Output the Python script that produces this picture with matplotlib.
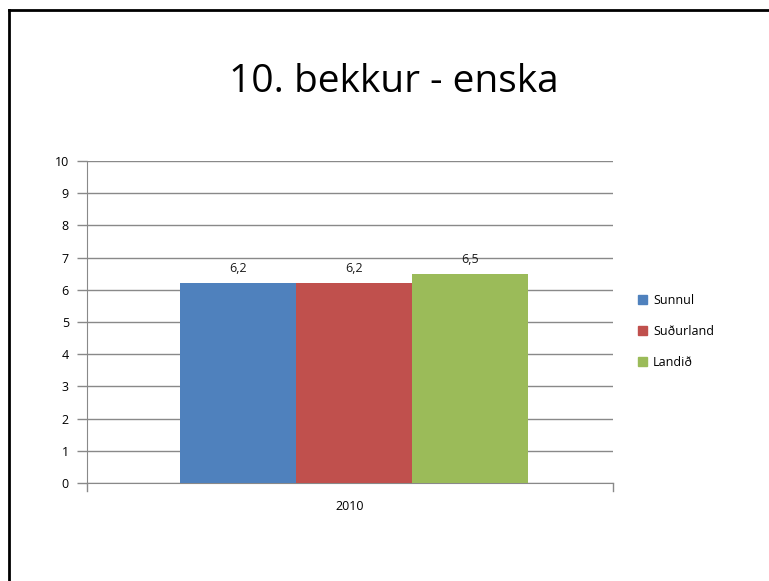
import numpy as np
import matplotlib.pyplot as plt
from matplotlib.lines import Line2D
from matplotlib.patches import Patch

plt.rcParams['font.family'] = ['Open Sans', 'DejaVu Sans']

categories = ['2010']
series_names = ['Sunnul', 'Suðurland', 'Landið']
series_values = [6.2, 6.2, 6.5]
value_labels = ['6,2', '6,2', '6,5']
colors = ['#4F81BD', '#C0504D', '#9BBB59']
y_ticks = list(range(0, 11))

fig = plt.figure(figsize=(7.69, 5.81), dpi=100)
ax = fig.add_axes([0.1131, 0.1687, 0.684, 0.554])

bar_w = 0.2205
shift = 0.0076
offsets = [-bar_w + shift, shift, bar_w + shift]
for name, val, lab, col, off in zip(series_names, series_values, value_labels, colors, offsets):
    ax.bar(off, val, width=bar_w, color=col, label=name, zorder=3)
    ax.text(off, val + 0.25, lab, ha='center', va='bottom', fontsize=9, color='#1a1a1a')

ax.set_xlim(-0.5, 0.5)
ax.set_ylim(0, 10)
ax.set_yticks(y_ticks)
ax.set_yticklabels([str(t) for t in y_ticks], fontsize=9)
ax.set_xticks([0])
ax.set_xticklabels(categories, fontsize=9)
ax.tick_params(axis='x', length=0, pad=12)
ax.tick_params(axis='y', length=7, width=1, color='#898989', pad=6)
ax.grid(axis='y', color='#898989', linewidth=1, zorder=0)
for s in ['top', 'right']:
    ax.spines[s].set_visible(False)
ax.spines['left'].set_color('#898989')
ax.spines['bottom'].set_color('#898989')
# end ticks on x axis
for xe in [-0.5, 0.5]:
    ax.plot([xe, xe], [0, -0.25], color='#898989', lw=1, clip_on=False)

handles = [Patch(color=c) for c in colors]
fig.legend(handles, series_names, loc='center left', bbox_to_anchor=(0.815, 0.43),
           frameon=False, fontsize=9, handlelength=0.7, handleheight=0.7,
           labelspacing=1.45, handletextpad=0.5)

fig.text(0.512, 0.859, '10. bekkur - enska', ha='center', va='center', fontsize=28)

# outer frame (top and left visible)
fig.add_artist(Line2D([0.0117, 1.0], [0.9836, 0.9836], color='black', lw=2, transform=fig.transFigure))
fig.add_artist(Line2D([0.0117, 0.0117], [0.0, 0.9836], color='black', lw=2, transform=fig.transFigure))

fig.savefig('out.png', dpi=100)
